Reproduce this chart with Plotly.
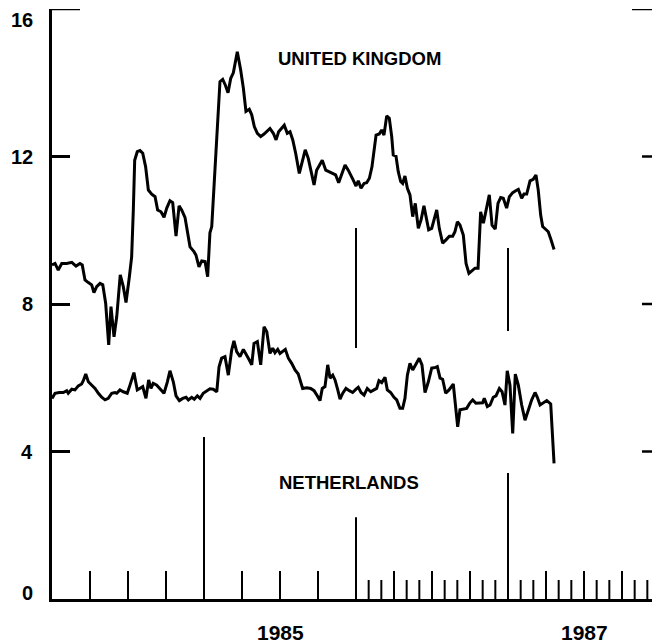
import plotly.graph_objects as go

# ---- data (decimal years, values) ----
uk_dates = [1984.000, 1984.020, 1984.041, 1984.064, 1984.097, 1984.130, 1984.158, 1984.184, 1984.199, 1984.217,
            1984.239, 1984.261, 1984.276, 1984.294, 1984.316, 1984.334, 1984.353, 1984.373, 1984.388, 1984.408,
            1984.426, 1984.449, 1984.469, 1984.487, 1984.509, 1984.524, 1984.535, 1984.544, 1984.561, 1984.579,
            1984.597, 1984.616, 1984.634, 1984.656, 1984.678, 1984.695, 1984.717, 1984.737, 1984.755, 1984.776,
            1984.794, 1984.816, 1984.836, 1984.853, 1984.875, 1984.890, 1984.908, 1984.934, 1984.947, 1984.967,
            1984.985, 1985.007, 1985.024, 1985.039, 1985.051, 1985.072, 1985.094, 1985.105, 1985.123, 1985.140,
            1985.158, 1985.176, 1985.193, 1985.219, 1985.241, 1985.259, 1985.276, 1985.298, 1985.314, 1985.331,
            1985.351, 1985.373, 1985.395, 1985.413, 1985.434, 1985.456, 1985.474, 1985.491, 1985.511, 1985.528,
            1985.548, 1985.566, 1985.584, 1985.603, 1985.627, 1985.647, 1985.666, 1985.686, 1985.704, 1985.724,
            1985.741, 1985.759, 1985.778, 1985.801, 1985.822, 1985.847, 1985.866, 1985.886, 1985.906, 1985.928,
            1985.949, 1985.972, 1985.982, 1986.000, 1986.015, 1986.033, 1986.053, 1986.070, 1986.088, 1986.105,
            1986.118, 1986.132, 1986.153, 1986.169, 1986.184, 1986.202, 1986.219, 1986.235, 1986.245, 1986.263,
            1986.278, 1986.294, 1986.307, 1986.322, 1986.338, 1986.355, 1986.373, 1986.390, 1986.410, 1986.428,
            1986.447, 1986.465, 1986.478, 1986.498, 1986.513, 1986.531, 1986.548, 1986.570, 1986.592, 1986.614,
            1986.636, 1986.651, 1986.667, 1986.684, 1986.706, 1986.724, 1986.743, 1986.763, 1986.783, 1986.803,
            1986.820, 1986.838, 1986.855, 1986.877, 1986.895, 1986.916, 1986.934, 1986.952, 1986.969, 1986.991,
            1987.009, 1987.031, 1987.051, 1987.068, 1987.090, 1987.105, 1987.123, 1987.145, 1987.166, 1987.184,
            1987.199, 1987.215, 1987.228, 1987.250, 1987.265, 1987.283, 1987.303]
uk_values = [9.06, 9.10, 8.92, 9.10, 9.10, 9.13, 9.03, 9.10, 9.06, 8.65,
             8.58, 8.52, 8.31, 8.47, 8.56, 8.52, 8.02, 6.89, 7.93, 7.11,
             7.66, 8.79, 8.47, 8.04, 8.74, 9.28, 10.55, 11.90, 12.13, 12.16,
             12.09, 11.72, 11.09, 10.98, 10.91, 10.55, 10.50, 10.35, 10.60, 10.80,
             10.75, 9.84, 10.66, 10.55, 10.35, 10.01, 9.55, 9.42, 9.33, 9.01,
             9.17, 9.15, 8.74, 9.93, 10.10, 11.63, 13.17, 14.03, 14.09, 13.94,
             13.73, 14.12, 14.27, 14.84, 14.35, 13.85, 13.22, 13.28, 13.13, 12.81,
             12.63, 12.54, 12.61, 12.67, 12.76, 12.63, 12.45, 12.67, 12.76, 12.85,
             12.63, 12.67, 12.45, 12.09, 11.54, 11.86, 12.18, 11.95, 11.59, 11.23,
             11.63, 11.77, 11.90, 11.63, 11.59, 11.54, 11.50, 11.29, 11.54, 11.77,
             11.63, 11.41, 11.36, 11.20, 11.34, 11.14, 11.27, 11.29, 11.41, 11.72,
             12.18, 12.58, 12.61, 12.72, 12.58, 13.10, 13.04, 12.54, 12.04, 12.01,
             11.59, 11.32, 11.27, 11.47, 11.14, 10.96, 10.37, 10.73, 10.05, 10.28,
             10.66, 10.28, 10.01, 10.05, 10.28, 10.55, 10.05, 9.65, 9.74, 9.84,
             9.84, 9.96, 10.23, 10.14, 9.87, 9.10, 8.83, 8.90, 8.97, 8.97,
             10.50, 10.19, 10.50, 10.96, 10.14, 10.03, 10.73, 10.89, 10.87, 10.60,
             10.91, 11.02, 11.07, 11.11, 10.87, 10.98, 10.98, 11.34, 11.38, 11.50,
             11.09, 10.41, 10.10, 10.03, 9.96, 9.74, 9.48]

nl_dates = [1984.000, 1984.020, 1984.048, 1984.074, 1984.097, 1984.107, 1984.130, 1984.151, 1984.173, 1984.195,
            1984.206, 1984.222, 1984.239, 1984.261, 1984.283, 1984.305, 1984.327, 1984.349, 1984.370, 1984.393,
            1984.414, 1984.426, 1984.447, 1984.469, 1984.495, 1984.513, 1984.539, 1984.561, 1984.579, 1984.597,
            1984.618, 1984.636, 1984.651, 1984.666, 1984.689, 1984.711, 1984.737, 1984.759, 1984.776, 1984.798,
            1984.816, 1984.838, 1984.860, 1984.882, 1984.897, 1984.919, 1984.936, 1984.956, 1984.974, 1984.995,
            1985.018, 1985.039, 1985.061, 1985.084, 1985.099, 1985.116, 1985.138, 1985.160, 1985.182, 1985.197,
            1985.215, 1985.237, 1985.259, 1985.281, 1985.298, 1985.314, 1985.329, 1985.351, 1985.373, 1985.395,
            1985.413, 1985.434, 1985.452, 1985.467, 1985.485, 1985.500, 1985.518, 1985.535, 1985.555, 1985.577,
            1985.599, 1985.620, 1985.649, 1985.676, 1985.702, 1985.724, 1985.745, 1985.763, 1985.778, 1985.796,
            1985.814, 1985.829, 1985.847, 1985.862, 1985.880, 1985.895, 1985.913, 1985.934, 1985.956, 1985.978,
            1986.000, 1986.015, 1986.033, 1986.053, 1986.074, 1986.097, 1986.118, 1986.136, 1986.151, 1986.169,
            1986.191, 1986.206, 1986.228, 1986.250, 1986.268, 1986.289, 1986.307, 1986.322, 1986.338, 1986.355,
            1986.373, 1986.395, 1986.416, 1986.434, 1986.454, 1986.476, 1986.498, 1986.524, 1986.535, 1986.553,
            1986.570, 1986.590, 1986.612, 1986.640, 1986.656, 1986.669, 1986.684, 1986.706, 1986.728, 1986.750,
            1986.768, 1986.789, 1986.811, 1986.833, 1986.844, 1986.864, 1986.882, 1986.903, 1986.921, 1986.943,
            1986.961, 1986.980, 1986.995, 1987.013, 1987.031, 1987.048, 1987.068, 1987.090, 1987.112, 1987.134,
            1987.156, 1987.178, 1987.193, 1987.211, 1987.232, 1987.255, 1987.281, 1987.303]
nl_values = [5.44, 5.58, 5.60, 5.60, 5.65, 5.58, 5.69, 5.67, 5.78, 5.83,
             5.92, 6.10, 5.89, 5.80, 5.71, 5.58, 5.47, 5.40, 5.44, 5.58,
             5.60, 5.58, 5.67, 5.62, 5.58, 5.80, 6.14, 5.67, 5.71, 5.76,
             5.44, 5.94, 5.71, 5.85, 5.80, 5.71, 5.58, 5.89, 6.19, 5.89,
             5.51, 5.38, 5.44, 5.47, 5.40, 5.47, 5.42, 5.51, 5.44, 5.58,
             5.65, 5.70, 5.69, 5.62, 6.30, 6.53, 6.57, 6.07, 6.75, 7.00,
             6.71, 6.57, 6.77, 6.62, 6.48, 6.35, 6.93, 6.98, 6.35, 7.38,
             7.25, 6.66, 6.80, 6.68, 6.77, 6.66, 6.71, 6.77, 6.53, 6.39,
             6.21, 6.10, 5.71, 5.73, 5.71, 5.65, 5.51, 5.38, 5.71, 5.76,
             6.35, 5.99, 6.07, 5.94, 5.67, 5.42, 5.58, 5.71, 5.65, 5.60,
             5.69, 5.74, 5.60, 5.53, 5.71, 5.62, 5.67, 5.71, 5.92, 5.87,
             6.01, 5.67, 5.60, 5.47, 5.40, 5.17, 5.17, 5.44, 6.07, 6.39,
             6.21, 6.39, 6.53, 6.35, 5.60, 5.89, 6.26, 6.28, 6.30, 5.99,
             5.96, 5.58, 5.67, 5.83, 5.26, 4.67, 5.13, 5.14, 5.17, 5.32,
             5.40, 5.31, 5.31, 5.32, 5.44, 5.22, 5.26, 5.47, 5.51, 5.71,
             5.62, 5.26, 6.19, 5.80, 4.49, 6.10, 5.80, 5.26, 4.85, 5.13,
             5.40, 5.60, 5.47, 5.26, 5.32, 5.38, 5.29, 3.68]

y_ticks = [0, 4, 8, 12, 16]
y_tick_labels = ["0", "4", "8", "12", "16"]
year_labels = ["1985", "1987"]
year_label_pos = [1985.5, 1987.5]

# event marker lines (date, low value, high value)
mark_x = [1985.0, 1986.0, 1986.0, 1987.0, 1987.0]
mark_lo = [0, 0, 6.81, 0, 7.27]
mark_hi = [4.39, 2.22, 10.06, 3.42, 9.52]

series_labels = ["UNITED KINGDOM", "NETHERLANDS"]
label_x = [1986.026, 1985.957]
label_y = [14.67, 3.15]

FONT = "Arial"
fig = go.Figure()
fig.add_trace(go.Scatter(x=uk_dates, y=uk_values, mode="lines",
                         line=dict(color="black", width=3), showlegend=False))
fig.add_trace(go.Scatter(x=nl_dates, y=nl_values, mode="lines",
                         line=dict(color="black", width=3), showlegend=False))

shapes = []
PLOT_H = 590.0
PLOT_W = 608.0
long_t = 28 / PLOT_H
short_t = 19 / PLOT_H
# x-axis ticks: quarters in 1984-85, months in 1986-87
for yr in [1984, 1985]:
    for q in [1, 2, 3]:
        xv = yr + q / 4
        shapes.append(dict(type="line", xref="x", yref="paper", x0=xv, x1=xv, y0=0, y1=long_t,
                           line=dict(color="black", width=2)))
for yr in [1986, 1987]:
    for m in range(1, 12):
        xv = yr + m / 12
        ln = long_t if m % 3 == 0 else short_t
        shapes.append(dict(type="line", xref="x", yref="paper", x0=xv, x1=xv, y0=0, y1=ln,
                           line=dict(color="black", width=2)))
# event marker lines
for xv, lo, hi in zip(mark_x, mark_lo, mark_hi):
    shapes.append(dict(type="line", xref="x", yref="y", x0=xv, x1=xv, y0=lo, y1=hi,
                       line=dict(color="black", width=2)))
# right side y ticks
for yv in y_ticks[1:]:
    ln = 28 if yv == 16 else 18
    shapes.append(dict(type="line", xref="paper", yref="y", x0=1 - ln / PLOT_W, x1=1, y0=yv, y1=yv,
                       line=dict(color="black", width=2.5)))
# longer top-left tick
shapes.append(dict(type="line", xref="paper", yref="y", x0=0, x1=28 / PLOT_W, y0=16, y1=16,
                   line=dict(color="black", width=2.5)))

tick_font = dict(family=FONT, size=20, color="black", weight="bold")
annotations = []
for t, xv, yv in zip(series_labels, label_x, label_y):
    annotations.append(dict(x=xv, y=yv, xref="x", yref="y", text=t, showarrow=False,
                            font=dict(family=FONT, size=18.5, color="black", weight="bold")))
# y tick labels
for yv, t in zip(y_ticks, y_tick_labels):
    if yv == 16:
        anchor, shift = "top", 1
    elif yv == 0:
        anchor, shift = "middle", 6
    else:
        anchor, shift = "middle", 0
    annotations.append(dict(x=0, y=yv, xref="paper", yref="y", text=t, showarrow=False,
                            xanchor="right", yanchor=anchor, xshift=-18, yshift=shift,
                            borderpad=0, font=tick_font))
# x (year) labels
for xv, t in zip(year_label_pos, year_labels):
    annotations.append(dict(x=xv, y=0, xref="x", yref="paper", text=t, showarrow=False,
                            xanchor="center", yanchor="middle", yshift=-33,
                            font=dict(family=FONT, size=21, color="black", weight="bold")))

# page body adds an 8px offset, so the figure is 8px smaller than the window
fig.update_layout(
    width=652, height=635,
    margin=dict(l=44, r=0, t=1, b=44),
    paper_bgcolor="white", plot_bgcolor="white",
    shapes=shapes, annotations=annotations,
    xaxis=dict(range=[1984, 1988], showgrid=False, zeroline=False, showline=True,
               linecolor="black", linewidth=2.5, ticks="", showticklabels=False,
               automargin=False),
    yaxis=dict(range=[0, 16], showgrid=False, zeroline=False, showline=True,
               linecolor="black", linewidth=2.5, ticks="inside", ticklen=18, tickwidth=2.5,
               tickcolor="black", tickvals=y_ticks, showticklabels=False, automargin=False),
)

fig.write_html("out.html")
